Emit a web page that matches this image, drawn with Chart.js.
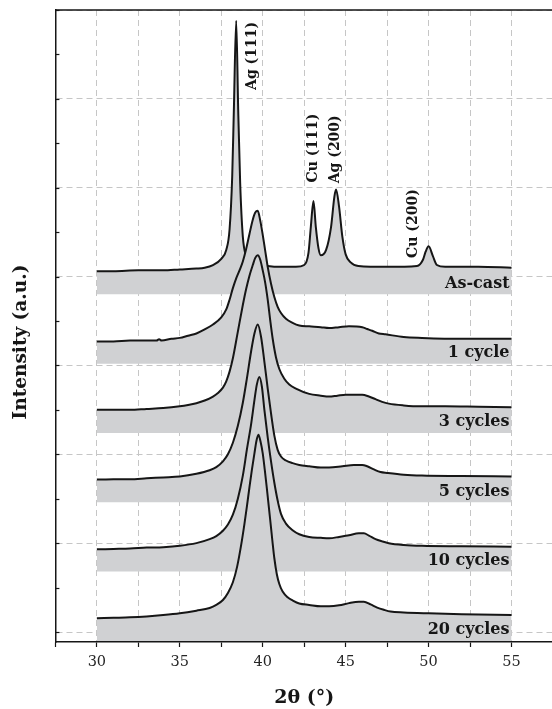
<!DOCTYPE html>
<html>
<head>
<meta charset="utf-8">
<script src="https://cdn.jsdelivr.net/npm/chart.js@4.4.1/dist/chart.umd.min.js"></script>
<style>
    html, body { margin: 0; padding: 0; background: #fff; overflow: hidden; }
    .xrd { position: relative; width: 560px; height: 709px; }
</style>
</head>
<body>
<div class="xrd"><canvas id="chart-xrd"></canvas></div>
<script>
// patterns, top to bottom, each lifted by its own offset
const seriesNames = ['As-cast', '1 cycle', '3 cycles', '5 cycles', '10 cycles', '20 cycles'];
const seriesOffsets = [380, 302, 224, 146, 68, -10];

const asCastAngle = [30, 31, 32.5, 34, 35, 36, 36.5, 37, 37.5, 37.8, 38, 38.16, 38.26, 38.4, 38.52, 38.64, 38.8, 39, 39.3, 39.7, 40.3, 41, 42, 42.5, 42.76, 42.9, 43.06, 43.2, 43.36, 43.5, 43.82, 44.12, 44.32, 44.42, 44.6, 44.8, 45, 45.3, 45.76, 47.5, 49.3, 49.66, 49.82, 50, 50.26, 50.5, 51, 53, 55];
const asCastIntensity = [26, 26, 27, 27, 28, 29, 30, 33, 40, 50, 73, 133, 208, 308, 208, 125, 65, 43, 36, 34, 32, 31, 31, 33, 47, 76, 105, 76, 52, 44, 50, 76, 110, 118, 99, 65, 45, 36, 32, 31, 32, 39, 48, 54, 43, 33, 31, 31, 30];

const cycle1Angle = [30, 31, 32, 33, 33.6, 33.75, 33.9, 34.5, 35, 35.5, 36, 36.5, 37, 37.5, 37.8, 38, 38.2, 38.4, 38.6, 38.8, 39, 39.2, 39.4, 39.55, 39.7, 39.85, 40, 40.15, 40.3, 40.5, 40.7, 40.9, 41.1, 41.4, 41.8, 42.2, 42.8, 43.5, 44, 44.6, 45.2, 46, 46.3, 46.6, 47, 47.4, 48.5, 49.6, 52, 55];
const cycle1Intensity = [25, 25, 26, 26, 26, 27.5, 26, 28, 29, 31.5, 34, 38.5, 44, 52, 61, 72, 85, 96, 105, 115, 129, 146, 162, 170, 172, 161, 145, 127, 109, 90, 75, 64, 57, 50.5, 46, 43, 42, 41, 40, 41, 42, 41, 39, 37, 34, 33, 30, 29, 28, 28];

const cycle3Angle = [30, 31, 32, 33, 34, 35, 35.5, 36, 36.5, 37, 37.3, 37.6, 37.8, 38, 38.2, 38.5, 38.8, 39, 39.2, 39.4, 39.55, 39.7, 39.85, 40, 40.15, 40.3, 40.45, 40.6, 40.8, 41, 41.3, 41.6, 42, 42.8, 43.5, 44, 44.5, 45, 45.5, 46, 46.4, 46.8, 47.2, 47.6, 48.5, 49.5, 51, 53, 55];
const cycle3Intensity = [26, 26, 26, 27, 28, 30, 31.5, 33.5, 36.5, 41, 45, 51, 58, 69, 84, 114, 144, 162, 177, 189, 197, 200, 195, 183, 169, 150, 127, 106, 85, 72, 61, 54.5, 50, 44, 42, 41, 42, 43, 43, 43, 41, 38, 35, 33, 31, 30, 30, 29.5, 29];

const cycle5Angle = [30, 31, 32, 33, 34, 35, 36, 36.8, 37.2, 37.6, 37.9, 38.2, 38.5, 38.8, 39.05, 39.3, 39.5, 39.7, 39.9, 40.1, 40.3, 40.5, 40.7, 40.9, 41.1, 41.4, 41.8, 42.2, 42.8, 43.5, 44, 44.8, 45.5, 46, 46.3, 46.7, 47.1, 47.5, 48.5, 49.6, 52, 55];
const cycle5Intensity = [25.5, 26, 26, 27, 28, 29, 32, 36, 39.5, 46, 54, 67, 86, 112, 140, 170, 190, 200, 186, 158, 128, 100, 75, 59, 51.5, 47, 44, 42, 40.5, 39, 39, 40.5, 42, 42, 40.5, 37, 34, 33, 31, 30, 29.5, 29];

const cycle10Angle = [30, 31, 32, 33, 34, 35, 36, 36.8, 37.2, 37.6, 37.9, 38.2, 38.5, 38.8, 39.05, 39.3, 39.5, 39.65, 39.8, 39.95, 40.1, 40.3, 40.5, 40.7, 40.9, 41.1, 41.4, 41.8, 42.2, 42.8, 43.5, 44, 44.6, 45.2, 45.8, 46.1, 46.4, 46.8, 47.2, 47.6, 48.5, 49.6, 52, 55];
const cycle10Intensity = [25, 25.5, 26, 27, 27.5, 29, 32, 36.5, 40, 46, 53, 64, 82, 108, 138, 166, 193, 211, 219, 208, 182, 151, 124, 100, 80, 65, 54, 46.5, 42, 39, 38, 37.5, 39, 41, 43, 43, 40.5, 36.5, 34, 32, 30, 29, 28.5, 28];

const cycle20Angle = [30, 31, 32, 33, 34, 35, 36, 36.8, 37.2, 37.6, 37.9, 38.2, 38.45, 38.7, 38.9, 39.05, 39.2, 39.35, 39.5, 39.62, 39.74, 39.86, 40, 40.12, 40.24, 40.44, 40.58, 40.7, 40.85, 41, 41.2, 41.5, 41.8, 42.2, 42.8, 43.5, 44, 44.6, 45.2, 45.8, 46.1, 46.5, 46.9, 47.3, 47.7, 48.5, 50, 52, 55];
const cycle20Intensity = [25.5, 26, 26.5, 27.5, 29, 31, 34, 37, 40.5, 46, 54, 66, 83, 108, 132, 152, 173, 193, 211, 225, 232, 225, 211, 193, 173, 138, 113, 93, 75, 64, 55.5, 49, 45.5, 42, 40.5, 39, 39, 40, 42.5, 44, 44, 41, 37.5, 35, 33, 32, 31, 30, 29];

const xTickLabels = [30, 35, 40, 45, 50, 55];
const yTickValues = [0, 50, 100, 150, 200, 250, 300, 350, 400, 450, 500, 550, 600, 650, 700];

const angles = [asCastAngle, cycle1Angle, cycle3Angle, cycle5Angle, cycle10Angle, cycle20Angle];
const intensities = [asCastIntensity, cycle1Intensity, cycle3Intensity, cycle5Intensity, cycle10Intensity, cycle20Intensity];

// reflection tags, placed in data coordinates (2θ, stacked intensity)
const peakTags = [
    { text: 'Ag (111)', x: 39.4, y: 610 },
    { text: 'Cu (111)', x: 43.05, y: 506 },
    { text: 'Ag (200)', x: 44.4, y: 505 },
    { text: 'Cu (200)', x: 49.1, y: 421 },
];

const ink = '#161616';
const serif = '"DejaVu Serif", "Liberation Serif", serif';

const decorations = {
    id: 'decorations',
    afterDatasetsDraw(chart) {
        const { ctx, scales: { x, y } } = chart;
        ctx.save();
        ctx.fillStyle = ink;

        ctx.font = 'bold 16px ' + serif;
        ctx.textAlign = 'right';
        ctx.textBaseline = 'alphabetic';
        seriesNames.forEach((name, i) => {
            ctx.fillText(name, x.getPixelForValue(55) - 2, y.getPixelForValue(seriesOffsets[i]) - 6.5);
        });

        ctx.font = 'bold 14px ' + serif;
        ctx.textAlign = 'left';
        ctx.textBaseline = 'middle';
        peakTags.forEach(tag => {
            ctx.save();
            ctx.translate(x.getPixelForValue(tag.x), y.getPixelForValue(tag.y));
            ctx.rotate(-Math.PI / 2);
            ctx.fillText(tag.text, 0, 0);
            ctx.restore();
        });
        ctx.restore();
    },
    afterDraw(chart) {
        const { ctx, chartArea: area, scales: { y } } = chart;
        ctx.save();
        ctx.strokeStyle = ink;
        ctx.lineWidth = 1.5;
        ctx.beginPath();
        ctx.moveTo(area.left, area.top);
        ctx.lineTo(area.right, area.top);
        ctx.lineTo(area.right, area.bottom);
        ctx.stroke();

        // inward ticks on the intensity axis
        ctx.lineWidth = 1.2;
        yTickValues.forEach(v => {
            const py = Math.round(y.getPixelForValue(v)) + 0.5;
            ctx.beginPath();
            ctx.moveTo(area.left, py);
            ctx.lineTo(area.left + 4, py);
            ctx.stroke();
        });

        ctx.fillStyle = ink;
        ctx.font = 'bold 18.5px ' + serif;
        ctx.textAlign = 'center';
        ctx.textBaseline = 'middle';
        ctx.translate(21, 342);
        ctx.rotate(-Math.PI / 2);
        ctx.fillText('Intensity (a.u.)', 0, 0);
        ctx.restore();
    }
};

const chartXrd = new Chart(document.getElementById('chart-xrd'), {
    type: 'line',
    data: {
        datasets: seriesNames.map((name, i) => ({
            label: name,
            data: angles[i].map((a, j) => ({ x: a, y: seriesOffsets[i] + intensities[i][j] })),
            borderColor: ink,
            borderWidth: 2,
            backgroundColor: '#d0d1d3',
            fill: { value: seriesOffsets[i] },
            pointRadius: 0,
            cubicInterpolationMode: 'monotone',
            order: seriesNames.length - i,
        }))
    },
    options: {
        responsive: true,
        maintainAspectRatio: false,
        animation: false,
        layout: { padding: { top: 10, right: 5.4, left: 0, bottom: 0 } },
        plugins: {
            legend: { display: false },
            tooltip: { enabled: false },
        },
        scales: {
            x: {
                type: 'linear',
                min: 27.5,
                max: 57.5,
                ticks: {
                    stepSize: 2.5,
                    autoSkip: false,
                    maxRotation: 0,
                    padding: 7,
                    color: '#262626',
                    font: { family: serif, size: 14.5 },
                    callback: v => xTickLabels.includes(v) ? v : '',
                },
                grid: {
                    color: c => (c.tick && c.tick.value === 27.5) ? 'rgba(0,0,0,0)' : '#c6c6c6',
                    lineWidth: 1,
                    tickColor: ink,
                    tickLength: 5,
                    tickWidth: 1.2,
                },
                border: { color: ink, width: 1.5, dash: [6, 4] },
                title: {
                    display: true,
                    text: '2θ (°)',
                    color: ink,
                    font: { family: serif, size: 19, weight: 'bold' },
                    padding: { top: 0, bottom: 0 },
                },
                afterFit: s => { s.height = 67; },
            },
            y: {
                type: 'linear',
                min: -11.25,
                max: 700,
                afterBuildTicks: s => { s.ticks = yTickValues.map(v => ({ value: v })); },
                ticks: { display: false },
                grid: {
                    color: c => (c.tick && c.tick.value % 100 === 0) ? '#c6c6c6' : 'rgba(0,0,0,0)',
                    lineWidth: 1,
                    drawTicks: false,
                },
                border: { color: ink, width: 1.5, dash: [6, 4] },
                afterFit: s => { s.width = 55.4; },
            }
        }
    },
    plugins: [decorations]
});
</script>
</body>
</html>
